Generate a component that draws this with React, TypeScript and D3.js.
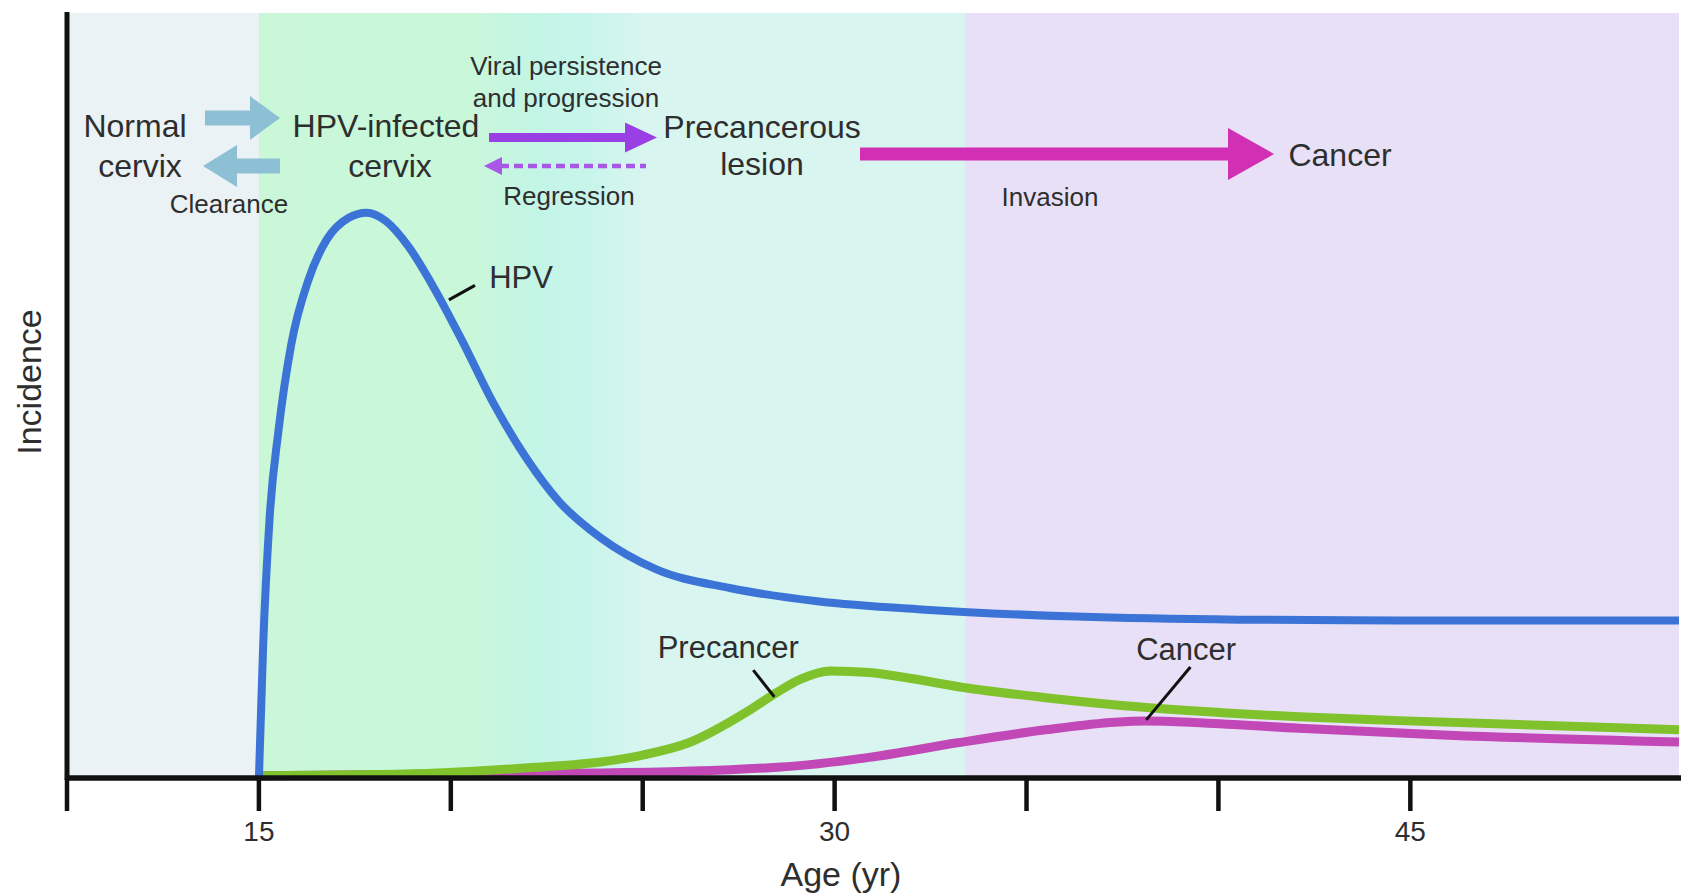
import React from "react";
import * as d3 from "d3";

// ---------- data ----------
const hpvAges = [15, 15.11, 15.28, 15.51, 15.84, 16.29, 16.77, 17.33, 17.81, 18.31, 18.88, 19.58, 20.28, 21.12, 21.97, 22.81, 23.93, 25.34, 27.3, 29.55, 32.36, 36.29, 40.51, 44.72, 52];
const hpvValues = [0, 17.2, 34.1, 45.4, 56.6, 65.1, 70.4, 73.2, 73.9, 72.8, 69.6, 63.9, 57.3, 48.9, 41.8, 36.2, 31.3, 27.3, 24.8, 23.1, 22.0, 21.1, 20.7, 20.6, 20.6];

const precancerAges = [15, 19.4, 22.2, 23.9, 25.0, 26.2, 27.7, 28.5, 29.1, 29.9, 30.9, 32.0, 33.4, 35.5, 37.9, 40.2, 42.1, 44.7, 52];
const precancerValues = [0.3, 0.6, 1.4, 2.1, 3.0, 4.6, 8.6, 11.2, 12.9, 14.0, 13.8, 13.0, 11.8, 10.5, 9.3, 8.5, 8.0, 7.5, 6.3];

const cancerAges = [15, 19.4, 23.9, 28.5, 30.9, 33.2, 35.5, 37.3, 38.1, 39.6, 42.1, 46.0, 52];
const cancerValues = [0.3, 0.5, 0.65, 1.4, 2.7, 4.6, 6.3, 7.3, 7.45, 7.2, 6.5, 5.6, 4.7];

const tickAges = [10, 15, 20, 25, 30, 35, 40, 45];
const tickLabels = ["", "15", "", "", "30", "", "", "45"];

// stage bands (age boundaries)
const bandStarts = [10, 15, 33.4];
const bandEnds = [15, 33.4, 52];

const W = 1688;
const H = 895;
const FONT = "'Liberation Sans', Arial, Helvetica, sans-serif";
const TEXT = "#2e2e2e";

const x = d3.scaleLinear().domain([10, 52]).range([67, 1679]);
const y = d3.scaleLinear().domain([0, 100]).range([778, 13]);

const line = d3
  .line<[number, number]>()
  .x((d) => x(d[0]))
  .y((d) => y(d[1]))
  .curve(d3.curveMonotoneX);

const zip = (a: number[], b: number[]) => a.map((v, i) => [v, b[i]] as [number, number]);

function blockArrow(x0: number, x1: number, cy: number, shaft: number, headLen: number, headHalf: number) {
  const dir = x1 > x0 ? 1 : -1;
  const hb = x1 - dir * headLen;
  const s = shaft / 2;
  return `M${x0},${cy - s}L${hb},${cy - s}L${hb},${cy - headHalf}L${x1},${cy}L${hb},${cy + headHalf}L${hb},${cy + s}L${x0},${cy + s}Z`;
}

const T = (props: any) => (
  <text fontFamily={FONT} fill={TEXT} textAnchor="middle" dominantBaseline="central" {...props} />
);

export default function App() {
  const bandColors = ["#ebf2f5", "url(#midGrad)", "#e8e0f6"];
  const gx0 = x(15);
  const gx1 = x(33.4);
  const stop = (age: number) => `${((x(age) - gx0) / (gx1 - gx0)) * 100}%`;

  return (
    <svg width={W} height={H} style={{ position: "absolute", left: 0, top: 0, background: "#fff" }}>
      <defs>
        <linearGradient id="midGrad" gradientUnits="userSpaceOnUse" x1={gx0} x2={gx1} y1={0} y2={0}>
          <stop offset="0%" stopColor="#c9f7d8" />
          <stop offset={stop(20.6)} stopColor="#c9f7da" />
          <stop offset={stop(22.3)} stopColor="#c3f5e7" />
          <stop offset={stop(23.6)} stopColor="#c8f5eb" />
          <stop offset={stop(25.0)} stopColor="#d8f5f0" />
          <stop offset="100%" stopColor="#d9f5f0" />
        </linearGradient>
      </defs>

      {bandStarts.map((s, i) => (
        <rect key={i} x={x(s)} y={y(100)} width={x(bandEnds[i]) - x(s)} height={y(0) - y(100)} fill={bandColors[i]} />
      ))}

      {/* curves */}
      <path d={line(zip(cancerAges, cancerValues)) || ""} fill="none" stroke="#c148b6" strokeWidth={9} />
      <path d={line(zip(precancerAges, precancerValues)) || ""} fill="none" stroke="#7fc22c" strokeWidth={9} />
      <path d={line(zip(hpvAges, hpvValues)) || ""} fill="none" stroke="#3b74d6" strokeWidth={8} />

      {/* axes */}
      <line x1={x(10)} x2={x(10)} y1={y(100) - 1} y2={y(0) + 2} stroke="#111" strokeWidth={5} />
      <line x1={x(10) - 2} x2={x(52) + 2} y1={y(0)} y2={y(0)} stroke="#111" strokeWidth={5.5} />
      {tickAges.map((a, i) => (
        <g key={a}>
          <line x1={x(a)} x2={x(a)} y1={y(0)} y2={y(0) + 33} stroke="#111" strokeWidth={4.5} />
          {tickLabels[i] && (
            <T x={x(a)} y={831} fontSize={28}>
              {tickLabels[i]}
            </T>
          )}
        </g>
      ))}
      <T x={841} y={874} fontSize={34}>
        Age (yr)
      </T>
      <T x={0} y={0} fontSize={34} transform={`translate(29,382) rotate(-90)`}>
        Incidence
      </T>

      {/* curve labels */}
      <line x1={x(19.95)} y1={y(62.5)} x2={x(20.63)} y2={y(64.4)} stroke="#111" strokeWidth={3} />
      <T x={x(21.0)} y={y(65.4)} fontSize={31} textAnchor="start">
        HPV
      </T>
      <line x1={x(27.88)} y1={y(14.1)} x2={x(28.43)} y2={y(10.6)} stroke="#111" strokeWidth={3} />
      <T x={x(27.23)} y={y(17.0)} fontSize={31}>
        Precancer
      </T>
      <line x1={x(39.27)} y1={y(14.5)} x2={x(38.12)} y2={y(7.6)} stroke="#111" strokeWidth={3} />
      <T x={x(39.16)} y={y(16.8)} fontSize={31}>
        Cancer
      </T>

      {/* stage diagram */}
      <T x={135} y={126} fontSize={32}>Normal</T>
      <T x={140} y={166} fontSize={32}>cervix</T>
      <path d={blockArrow(205, 280, 118, 15, 30, 22)} fill="#8dbfd5" />
      <path d={blockArrow(280, 203, 166, 15, 34, 21)} fill="#8dbfd5" />
      <T x={229} y={204} fontSize={26}>Clearance</T>

      <T x={386} y={126} fontSize={32}>HPV-infected</T>
      <T x={390} y={166} fontSize={32}>cervix</T>

      <T x={566} y={66} fontSize={26}>Viral persistence</T>
      <T x={566} y={98} fontSize={26}>and progression</T>
      <path d={blockArrow(489, 657, 137.5, 9, 32, 15)} fill="#9a3fe3" />
      <line x1={500} x2={646} y1={166} y2={166} stroke="#a857e6" strokeWidth={4.5} strokeDasharray="9 5" />
      <path d="M484,166L502,157L502,175Z" fill="#a857e6" />
      <T x={569} y={196} fontSize={26}>Regression</T>

      <T x={762} y={127} fontSize={32}>Precancerous</T>
      <T x={762} y={164} fontSize={32}>lesion</T>
      <path d={blockArrow(860, 1274, 154, 13, 46, 26)} fill="#d12fb4" />
      <T x={1340} y={155} fontSize={32}>Cancer</T>
      <T x={1050} y={197} fontSize={26}>Invasion</T>
    </svg>
  );
}
